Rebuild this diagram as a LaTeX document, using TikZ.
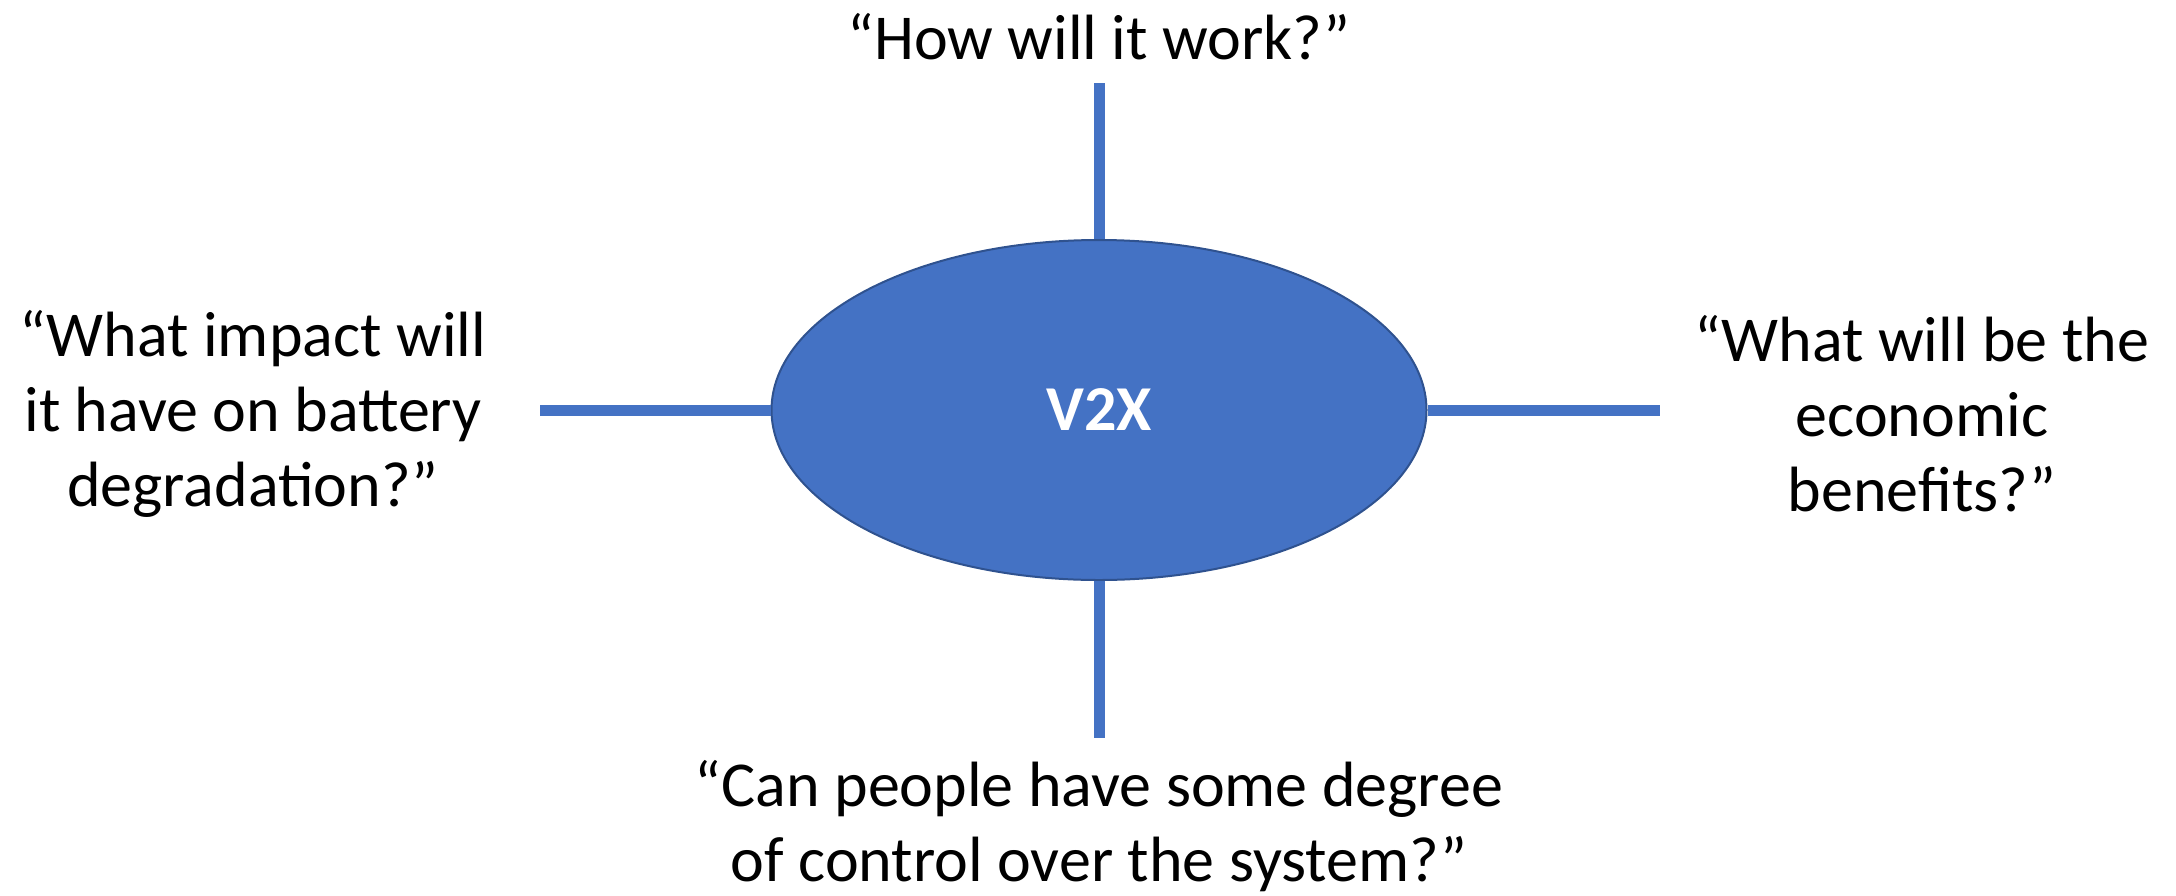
\documentclass[tikz,border=0pt]{standalone}
\usepackage{fontspec}
\setmainfont{Carlito}
\usetikzlibrary{shapes.geometric}
\definecolor{officeblue}{HTML}{4472C4}
\definecolor{edgeblue}{HTML}{2F528F}
\tikzset{
  hub/.style={ellipse, fill=officeblue, draw=edgeblue, line width=2pt, minimum width=655pt, minimum height=340pt, inner sep=0pt, text=white, font=\fontsize{64}{76}\selectfont\bfseries},
  spoke/.style={draw=officeblue, line width=11pt},
  question/.style={align=center, inner sep=0pt, text=black, font=\fontsize{64}{75}\selectfont}
}
\begin{document}
\begin{tikzpicture}[x=1pt,y=-1pt]
\useasboundingbox (0,0) rectangle (2176,895);
\coordinate (topend) at (1099,83);
\coordinate (botend) at (1099,738);
\coordinate (leftend) at (540,410);
\coordinate (rightend) at (1660,410);
\node[hub] (v2x) at (1099,410) {V2X};
\draw[spoke] (v2x.north) -- (topend);
\draw[spoke] (v2x.south) -- (botend);
\draw[spoke] (v2x.west) -- (leftend);
\draw[spoke] (v2x.east) -- (rightend);
\node[question] (qtop) at (1099,37) {“How will it work?”};
\node[question] (qleft) at (253,414) {“What impact will\\it have on battery\\degradation?”};
\node[question] (qright) at (1922,414) {“What will be the\\economic\\benefits?”};
\node[question] (qbot) at (1099,826) {“Can people have some degree\\of control over the system?”};
\end{tikzpicture}
\end{document}
